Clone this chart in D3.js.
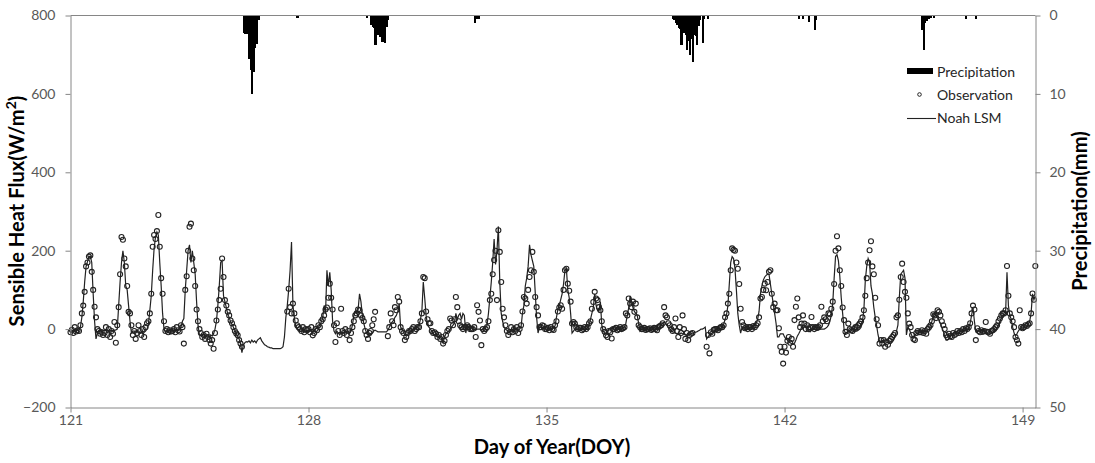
<!DOCTYPE html>
<html><head><meta charset="utf-8">
<script src="https://cdn.jsdelivr.net/npm/d3@7"></script>
<style>
body{margin:0;background:#fff;}
svg{display:block;font-family:Lato,"Open Sans","Liberation Sans",sans-serif;}
</style>
</head><body>
<svg id="chart" width="1095" height="463"></svg>
<script>
// ---------------- DATA ----------------
const startDOY = 121;
const xTickValues = [121, 128, 135, 142, 149];
const yLeftTickValues = [-200, 0, 200, 400, 600, 800];
const yRightTickValues = [0, 10, 20, 30, 40, 50];
const seriesNames = ["Precipitation", "Observation", "Noah LSM"];

// Noah LSM sensible heat flux (W/m2), hourly, one row per day starting DOY 121
const modelFlux = [
 [-5,-5,-6,-4,-5,-3,-2,5,30,70,120,160,172,185,186,170,90,20,-25,-10,-3,-3,-2,-3],
 [-3,-3,-4,-3,-5,-3,-3,-3,-2,0,60,120,170,200,170,110,100,60,20,-10,-5,-5,-8,-5],
 [-8,-10,-6,-12,-8,-5,0,12,48,85,150,205,235,248,240,170,110,40,0,-8,-5,-5,-4,-5],
 [-3,-3,-4,-3,-3,-2,5,20,27,100,150,200,215,170,200,170,140,70,10,-15,-15,-18,-12,-15],
 [-15,-18,-20,-15,-18,-12,0,20,60,110,170,175,85,70,55,38,30,18,12,5,-3,-12,-18,-25],
 [-37,-60,-40,-35,-32,-33,-30,-35,-28,-33,-30,-35,-28,-25,-22,-30,-35,-40,-42,-45,-46,-48,-48,-50],
 [-50,-50,-50,-50,-50,-48,-45,-20,30,60,100,150,222,60,30,5,0,-2,-5,-5,-5,-8,-5,-5],
 [-3,-5,-5,-8,-5,0,3,5,10,18,28,60,40,150,110,145,100,20,-5,-12,-5,-10,-15,-10],
 [-8,-10,-5,-8,-5,-10,-5,10,35,45,40,50,90,70,35,15,0,-10,-15,-12,-15,-10,-5,-3],
 [-5,-7,-7,-7,-7,-7,-7,-7,-3,5,14,18,22,30,35,45,65,5,0,-8,-15,-18,-15,-10],
 [-5,-3,0,0,2,5,10,25,45,120,80,35,10,5,0,-5,-12,-15,-15,-18,-20,-18,-25,-35],
 [-20,-12,-8,-5,0,5,10,15,40,25,35,40,25,40,35,-10,10,5,0,5,0,0,-3,0],
 [0,0,-2,0,0,3,10,40,80,120,170,230,165,200,262,120,40,20,5,0,-3,-5,-8,-5],
 [-5,-3,0,0,-3,0,5,40,60,110,130,160,215,190,175,160,95,30,-10,5,5,3,0,0],
 [0,0,0,0,0,3,8,30,50,60,75,90,115,150,155,100,80,40,-10,-5,0,0,0,0],
 [0,0,0,0,2,3,10,25,40,55,90,60,48,45,70,10,-5,-10,-12,-5,0,3,2,0],
 [0,0,0,0,0,0,2,5,15,35,55,85,70,55,45,40,35,15,-5,0,0,0,0,0],
 [0,0,0,0,0,0,0,3,6,12,15,18,14,10,3,0,-3,-7,-8,-10,-12,-12,-12,-10],
 [-12,-12,-13,-15,-15,-13,-12,-10,-10,-8,-7,-5,-3,0,0,2,5,-25,-20,-15,-12,-10,-7,-3],
 [0,0,0,2,5,12,25,35,60,115,170,185,180,155,100,40,10,-10,5,0,0,0,2,3],
 [3,5,8,10,15,25,45,90,110,125,133,137,140,140,115,90,65,40,15,-20,-20,-12,-12,-12],
 [-20,-25,-28,-33,-35,-37,-38,-36,-28,-18,-12,-5,5,0,8,5,0,-3,-7,-3,0,2,5,5],
 [0,0,0,0,0,2,5,10,20,35,65,130,185,190,175,135,80,40,0,-12,-8,-5,-3,0],
 [0,-3,-5,-5,-3,0,5,20,50,125,160,180,170,110,90,55,30,8,-15,-30,-33,-30,-28,-28],
 [-28,-30,-35,-37,-33,-28,-18,-5,10,80,140,145,150,130,-15,5,0,-10,-18,-20,-15,-12,-10,-8],
 [-5,-5,-5,-7,-5,-3,0,10,20,35,42,35,28,22,15,5,-5,-18,-28,-28,-25,-20,-15,-12],
 [-12,-10,-10,-8,-7,-5,-3,-3,0,0,3,15,35,55,20,-7,-7,-5,-5,-3,-3,-5,-10,-10],
 [-10,-10,-10,-8,-5,-2,3,10,20,27,32,35,40,145,60,35,25,5,-10,-18,-12,-5,0,3],
 [3,5,5,8,12,20,40,90,75,85]
];

// Observed sensible heat flux (W/m2), hourly, null = missing
const N = null;
const obsFlux = [
 [-8,-2,-10,5,-6,-3,-5,10,40,60,95,160,170,185,188,146,100,57,30,0,-5,-12,-8,-15],
 [-10,5,-15,0,-20,-5,-12,18,-35,10,56,140,235,228,180,160,110,44,40,10,-15,-5,-25,-10],
 [10,-5,-15,0,-20,5,15,20,40,90,210,240,230,250,291,210,130,90,20,-5,0,-8,-3,-6],
 [-5,0,-8,5,-3,-6,10,5,-37,100,135,200,261,269,180,150,110,50,20,0,-10,-20,-15,-25],
 [-12,-20,-28,-37,-28,-50,-10,22,50,74,103,180,133,74,60,44,35,22,15,5,-5,-11,-16,-28],
 [-37,-45,N,N,N,N,N,N,N,N,N,N,N,N,N,N,N,N,N,N,N,N,N,N],
 [N,N,N,N,N,N,N,N,N,45,103,56,40,65,40,22,10,5,0,-5,5,-8,0,-3],
 [0,-8,5,-16,-10,0,-3,10,5,20,25,35,50,55,80,116,80,50,10,-33,15,-5,-15,52],
 [-5,-10,0,-15,-5,-28,-10,5,20,35,40,50,48,35,28,20,-5,-15,-25,-10,-5,10,25,44],
 [N,N,N,N,N,N,N,N,-18,5,40,20,10,56,48,82,70,5,-5,-10,-28,-20,-10,-5],
 [-5,0,5,-5,0,5,5,20,40,133,130,45,25,15,15,-5,-10,-8,-12,-20,-15,-25,-20,-37],
 [-30,-15,-5,0,27,22,10,25,82,56,20,10,5,0,5,5,10,5,0,0,0,5,-20,61],
 [44,22,-41,0,-5,0,5,20,74,90,140,176,200,74,252,197,120,52,30,10,-5,-15,-8,5],
 [-8,0,-5,5,-10,0,10,45,82,78,65,100,133,150,197,146,82,56,35,5,5,10,8,0],
 [0,3,-3,5,0,-2,10,20,45,55,61,52,100,150,154,116,98,70,14,18,14,5,0,3],
 [3,-3,0,5,0,5,15,20,52,69,95,78,74,56,48,20,0,-7,-16,-20,-5,-8,-24,0],
 [0,3,-3,0,5,0,2,5,40,35,78,65,56,70,44,65,30,10,5,0,0,3,-2,0],
 [0,2,-2,0,3,0,-3,5,8,10,15,56,35,30,15,10,0,-5,5,27,-5,-20,5,-10],
 [35,0,-25,-10,-28,-15,-12,-10,N,N,N,N,N,N,N,N,N,-45,-15,-62,-8,-12,-2,0],
 [0,-3,2,5,5,10,30,40,65,90,150,206,202,200,170,154,115,52,18,10,2,5,0,5],
 [5,0,8,5,10,15,30,78,82,100,116,99,120,146,150,90,56,65,48,48,2,-45,-58,-88],
 [-45,-60,-30,-20,-35,-25,-45,23,57,78,30,5,14,35,14,0,10,0,5,31,5,0,5,3],
 [5,10,57,20,30,25,20,40,38,52,70,115,200,237,206,150,110,55,23,-7,-15,14,0,-3],
 [-5,0,5,5,10,14,20,30,48,85,130,170,201,224,160,140,80,25,10,-37,-28,-37,-28,-45],
 [-33,-40,-30,-25,-20,-15,-10,30,35,75,133,167,120,95,80,40,14,5,-15,-25,-28,-10,-5,-8],
 [-8,-3,-10,-5,-12,0,5,10,20,38,35,28,48,44,35,20,10,0,-15,-20,-12,-18,-20,-10],
 [-15,-12,-5,-10,-5,-8,0,-5,2,0,5,15,40,60,50,-28,2,-5,-8,-3,-7,-5,18,-7],
 [-8,-12,-5,-3,0,5,10,20,27,35,40,40,48,161,85,40,30,20,5,-20,-28,-37,48,5],
 [2,5,10,8,12,15,40,91,75,161]
];

// Precipitation (mm): hour index counted from start of DOY 121, and amount
const precipHour = [122,123,124,125,126,127,128,129,130,131,132,133,160,
  209,212,213,214,215,216,217,218,219,220,221,222,223,224,285,287,288,
  425,426,427,428,429,430,431,432,433,434,435,436,437,438,439,440,441,442,443,444,446,447,450,
  514,517,521,525,526,601,602,603,604,605,606,607,609,632,639];
const precipMM = [2.2,2.4,2.3,1.6,5.5,7.0,10.0,7.2,4.2,3.6,0.5,0.6,0.3,
  0.3,1.2,1.5,1.6,3.8,2.2,2.5,2.8,1.5,3.4,1.6,3.5,1.5,0.6,0.9,0.5,0.5,
  0.5,0.6,1.0,1.2,1.6,1.7,3.8,2.0,2.2,2.5,4.4,3.2,5.1,3.0,5.9,2.5,2.6,3.8,1.3,0.6,3.5,0.4,0.4,
  0.4,0.4,0.8,1.9,0.6,1.9,4.4,1.0,0.7,0.5,0.4,0.3,0.3,0.4,0.4];

// ---------------- CHART ----------------
const svg = d3.select("#chart");
const axisColor = "#868686", labelColor = "#595959", markColor = "#222";

const x = d3.scaleLinear().domain([121, 149.38]).range([70.5, 1035.5]);
const yL = d3.scaleLinear().domain([-200, 800]).range([407.5, 15.5]);
const yR = d3.scaleLinear().domain([0, 50]).range([15.5, 407.5]);

const toPoints = rows => rows.flatMap((row, d) =>
  row.map((v, h) => ({t: startDOY + d + h / 24, v})));
const modelPts = toPoints(modelFlux);
const obsPts = toPoints(obsFlux).filter(p => p.v !== null);
const precip = precipHour.map((h, i) => ({t: startDOY + h / 24, v: precipMM[i]}));

// precipitation bars hanging from the top
const hourW = x(startDOY + 1 / 24) - x(startDOY);
svg.append("g").attr("shape-rendering", "crispEdges").selectAll("rect").data(precip).join("rect")
  .attr("x", d => x(d.t) - hourW / 2)
  .attr("width", hourW + 0.7)
  .attr("y", yR(0))
  .attr("height", d => yR(d.v) - yR(0))
  .attr("fill", "#000");

// model line
svg.append("path").datum(modelPts)
  .attr("d", d3.line().x(d => x(d.t)).y(d => yL(d.v)))
  .attr("fill", "none").attr("stroke", markColor).attr("stroke-width", 1.2);

// observations
svg.append("g").selectAll("circle").data(obsPts).join("circle")
  .attr("cx", d => x(d.t)).attr("cy", d => yL(d.v)).attr("r", 2.5)
  .attr("fill", "none").attr("stroke", markColor).attr("stroke-width", 1.1);

// axes
function styleAxis(g) {
  g.selectAll(".domain").attr("stroke", axisColor);
  g.selectAll(".tick line").attr("stroke", axisColor);
  g.selectAll(".tick text").attr("fill", labelColor).style("font-size", "14px")
    .style("font-family", "Lato, 'Open Sans', sans-serif");
}
svg.append("g").attr("transform", "translate(70.5,0)")
  .call(d3.axisLeft(yL).tickValues(yLeftTickValues).tickSize(5).tickSizeOuter(0).tickPadding(10))
  .call(styleAxis);
svg.append("g").attr("transform", "translate(1035.5,0)")
  .call(d3.axisRight(yR).tickValues(yRightTickValues).tickSize(5).tickSizeOuter(0).tickPadding(9))
  .call(styleAxis);
svg.append("g").attr("transform", "translate(0,407.5)")
  .call(d3.axisBottom(x).tickValues(xTickValues).tickSize(5).tickSizeOuter(0).tickPadding(3)
    .tickFormat(d3.format("d")))
  .call(styleAxis);
svg.append("line").attr("x1", 70.5).attr("x2", 1035.5).attr("y1", 15.5).attr("y2", 15.5)
  .attr("stroke", axisColor);

// titles
function fit(sel, target) {
  const w = sel.node().getComputedTextLength();
  const fs = parseFloat(sel.style("font-size"));
  sel.style("font-size", (fs * target / w) + "px");
}
const yTitle = svg.append("text")
  .attr("transform", "translate(24,211) rotate(-90)")
  .attr("text-anchor", "middle").style("font-weight", "bold").style("font-size", "18px")
  .attr("fill", "#000");
yTitle.append("tspan").text("Sensible Heat Flux(W/m");
yTitle.append("tspan").text("2").attr("baseline-shift", "super").style("font-size", "70%");
yTitle.append("tspan").text(")");
fit(yTitle, 231);
const titleFs = yTitle.style("font-size");

svg.append("text").attr("transform", "translate(1087,211) rotate(-90)")
  .attr("text-anchor", "middle").style("font-weight", "bold").style("font-size", titleFs)
  .attr("fill", "#000").text("Precipitation(mm)");

svg.append("text").attr("x", 552).attr("y", 453.5)
  .attr("text-anchor", "middle").style("font-weight", "bold").style("font-size", titleFs)
  .attr("fill", "#000").text("Day of Year(DOY)");

// legend
const lg = svg.append("g");
lg.append("rect").attr("x", 907).attr("y", 68).attr("width", 26).attr("height", 6).attr("fill", "#000");
lg.append("circle").attr("cx", 919.5).attr("cy", 94.5).attr("r", 1.8)
  .attr("fill", "none").attr("stroke", markColor).attr("stroke-width", 1);
lg.append("line").attr("x1", 907).attr("x2", 936).attr("y1", 118.5).attr("y2", 118.5)
  .attr("stroke", markColor).attr("stroke-width", 1.1);
const ly = [76.5, 99.5, 123];
seriesNames.forEach((n, i) => {
  lg.append("text").attr("x", 937).attr("y", ly[i]).style("font-size", "14px")
    .attr("fill", "#262626").text(n);
});
</script>
</body></html>
